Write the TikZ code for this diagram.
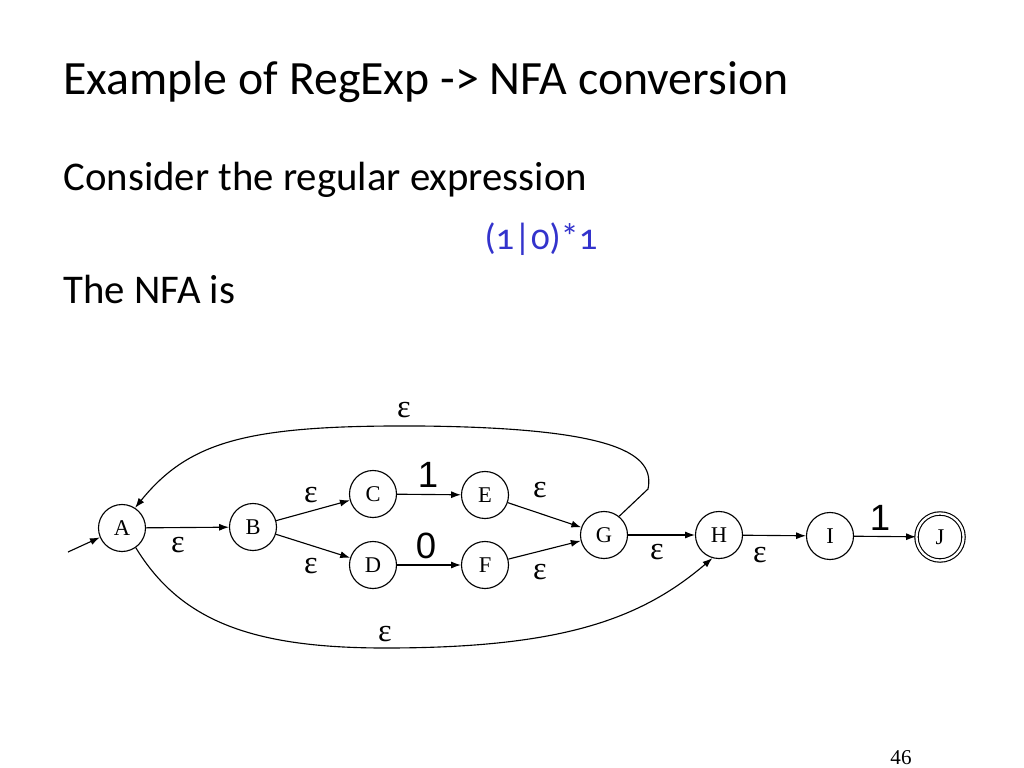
\documentclass[tikz,border=0pt]{standalone}
\usepackage{fontspec}
\setmainfont{Carlito}
\newfontfamily\tms{Liberation Serif}
\newfontfamily\hlv{Liberation Sans}
\usetikzlibrary{arrows.meta}
\definecolor{rexblue}{RGB}{51,51,204}
\tikzset{
  state/.style={circle, draw, minimum size=1.175cm, inner sep=0pt, font=\tms\fontsize{16}{16}\selectfont},
  final/.style={state, double, double distance=1.6pt},
  eps/.style={font=\tms\fontsize{23}{23}\selectfont, inner sep=0pt},
  sym/.style={font=\hlv\fontsize{26}{26}\selectfont, inner sep=0pt},
  txt/.style={anchor=base west, inner sep=0pt}
}
\begin{document}
\begin{tikzpicture}[x=0.025cm, y=-0.025cm, >={Latex[length=7pt,width=5pt]}, line width=0.8pt]
  \useasboundingbox (0,0) rectangle (1024,768);
  % slide text
  \node[txt, font=\fontsize{34}{34}\selectfont] (title) at (63,95) {Example of RegExp -> NFA conversion};
  \node[txt, font=\fontsize{29}{29}\selectfont] (consider) at (63,190) {Consider the regular expression};
  \node[anchor=base, inner sep=0pt, font=\fontsize{26}{26}\selectfont\addfontfeatures{Numbers=OldStyle}, text=rexblue] (rex) at (541,249) {(1|0)*1};
  \node[txt, font=\fontsize{29}{29}\selectfont] (nfais) at (63,303) {The NFA is};
  \node[inner sep=0pt, font=\tms\fontsize{15}{15}\selectfont] (page) at (901,758) {46};

  % states
  \node[state] (A) at (122,528) {A};
  \node[state] (B) at (253,527) {B};
  \node[state] (C) at (373,494) {C};
  \node[state] (D) at (373,565) {D};
  \node[state] (E) at (485,495) {E};
  \node[state] (F) at (485,565) {F};
  \node[state] (G) at (604,535) {G};
  \node[state] (H) at (719,535) {H};
  \node[state] (I) at (830,536) {I};
  \node[final] (J) at (940,537) {J};
  \coordinate (start) at (68,552);

  % transitions
  \draw[->] (start) -- (A.203);
  \draw[->] (A) -- (B);
  \draw[->] (B) -- (C);
  \draw[->] (B) -- (D);
  \draw[->] (C) -- (E);
  \draw[->] (D) -- (F);
  \draw[->] (E) -- (G);
  \draw[->] (F) -- (G);
  \draw[->] (G) -- (H);
  \draw[->] (H) -- (I);
  \draw[->] (I) -- (J);
  \draw[->] (G.51) -- (648,489) .. controls (655,455) and (620,428) .. (420,426)
            .. controls (250,425) and (190,440) .. (A.57);
  \draw[->] (A.-55) .. controls (180,620) and (250,648) .. (385,648)
            .. controls (560,648) and (640,620) .. (H.-106);

  % labels
  \node[eps] (eAB) at (178,545) {ε};
  \node[eps] (eBC) at (311,495) {ε};
  \node[eps] (eBD) at (311,566) {ε};
  \node[sym] (oCE) at (428,475) {1};
  \node[sym] (zDF) at (426,546) {0};
  \node[eps] (eEG) at (540,490) {ε};
  \node[eps] (eFG) at (540,572) {ε};
  \node[eps] (eGH) at (657,552) {ε};
  \node[eps] (eHI) at (760,555) {ε};
  \node[sym] (oIJ) at (880,518) {1};
  \node[eps] (eGA) at (404,410) {ε};
  \node[eps] (eAH) at (385,634) {ε};
\end{tikzpicture}
\end{document}
